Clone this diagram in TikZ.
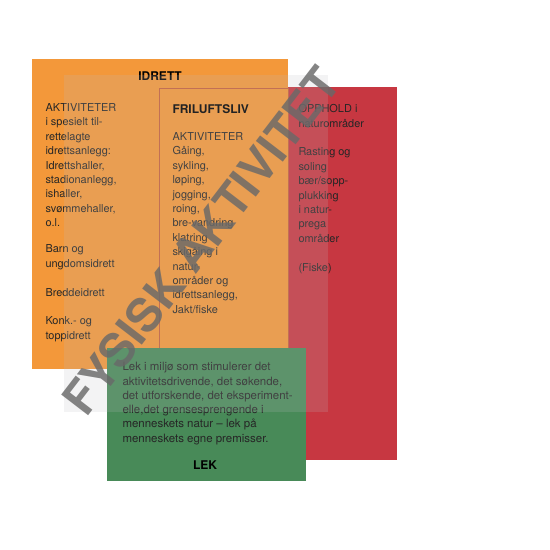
\documentclass[tikz,border=0pt]{standalone}
\usepackage{fontspec}
\setmainfont{TeX Gyre Heros}

\definecolor{idrettorange}{RGB}{243,152,58}
\definecolor{oppholdred}{RGB}{199,55,65}
\definecolor{lekgreen}{RGB}{72,138,88}
\definecolor{frameline}{RGB}{196,96,62}
\definecolor{veilgrey}{RGB}{190,190,195}
\definecolor{fysiskgrey}{RGB}{105,105,105}

\tikzset{every picture/.style={line width=0.75pt}}
\tikzset{
  coltext/.style={anchor=north west, inner sep=0pt, align=left, text=black!85,
    font=\fontsize{8.2}{10.8}\selectfont},
  boxtitle/.style={inner sep=0pt, text=black, font=\fontsize{9}{10.8}\selectfont\bfseries},
}

\begin{document}
\begin{tikzpicture}[x=0.75pt,y=0.75pt,yscale=-1,xscale=1]
	\useasboundingbox (0,0) rectangle (550,550);

	%Shape: Rectangle [id:opphold]
	\draw [draw opacity=0][fill=oppholdred] (288,87) -- (397,87) -- (397,460) -- (288,460) -- cycle ;
	%Shape: Rectangle [id:idrett]
	\draw [draw opacity=0][fill=idrettorange] (32,59) -- (288,59) -- (288,369) -- (32,369) -- cycle ;
	%Shape: Rectangle [id:friluftsliv]
	\draw [color=frameline, line width=0.6] (159,88) -- (288,88) -- (288,348) -- (159,348) -- cycle ;
	%Shape: Rectangle [id:lek]
	\draw [draw opacity=0][fill=lekgreen] (107,348) -- (306,348) -- (306,481) -- (107,481) -- cycle ;

	% Text Node
	\draw (160,76) node (idrett) [boxtitle] {IDRETT};
	% Text Node
	\draw (45,103) node (idrettakt) [coltext] {AKTIVITETER\\i spesielt til-\\rettelagte\\idrettsanlegg:\\Idrettshaller,\\stadionanlegg,\\ishaller,\\svømmehaller,\\o.l.\\[8.7pt]Barn og\\ungdomsidrett\\[10.9pt]Breddeidrett\\[10.9pt]Konk.- og\\toppidrett};
	% Text Node
	\draw (172,104) node (friluft) [boxtitle, anchor=north west] {FRILUFTSLIV};
	% Text Node
	\draw (172,132) node (friluftakt) [coltext] {AKTIVITETER\\Gåing,\\sykling,\\løping,\\jogging,\\roing,\\bre-vandring\\klatring\\skigåing i\\natur-\\områder og\\idrettsanlegg,\\Jakt/fiske};
	% Text Node
	\draw (298,104) node (opphold) [coltext] {OPPHOLD i\\naturområder\\[10.8pt]Rasting og\\soling\\bær/sopp-\\plukking\\i natur-\\prega\\områder\\[10.8pt](Fiske)};
	% Text Node
	\draw (122,362) node (lektext) [coltext, font=\fontsize{8.6}{10.7}\selectfont] {Lek i miljø som stimulerer det\\aktivitetsdrivende, det søkende,\\det utforskende, det eksperiment-\\elle,det grensesprengende i\\menneskets natur – lek på\\menneskets egne premisser.};
	% Text Node
	\draw (205,465) node (lek) [boxtitle] {LEK};

	%Shape: Rectangle [id:veil]
	\draw [draw opacity=0][fill=veilgrey, fill opacity=0.18] (64,75) -- (328,75) -- (328,412) -- (64,412) -- cycle ;

	% Text Node
	\draw (201,241) node (fysisk) [rotate=52.5, inner sep=0pt, text=fysiskgrey, text opacity=0.82, font=\fontsize{35}{38}\selectfont\bfseries] {FYSISK AKTIVITET};

\end{tikzpicture}
\end{document}
